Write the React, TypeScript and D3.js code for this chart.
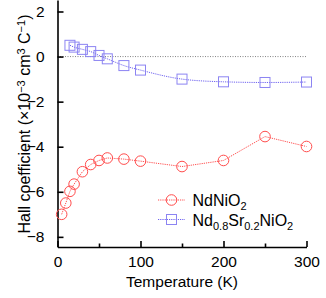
import { useEffect, useRef } from 'react';
import * as d3 from 'd3';

const ndTemps = [5, 10, 15, 20, 30, 40, 50, 60, 80, 100, 150, 200, 250, 300];
const ndHall = [-7.0, -6.5, -5.98, -5.66, -5.11, -4.79, -4.61, -4.5, -4.55, -4.64, -4.88, -4.61, -3.55, -3.99];

const srTemps = [15, 20, 30, 40, 50, 60, 80, 100, 150, 200, 250, 300];
const srHall = [0.5, 0.42, 0.32, 0.22, 0.05, -0.1, -0.4, -0.6, -1.0, -1.12, -1.15, -1.13];

const xTicks = [0, 100, 200, 300];
const xMinorTicks = [50, 150, 250];
const yTicks = [-8, -6, -4, -2, 0, 2];

const FONT = '"Liberation Sans", Arial, Helvetica, sans-serif';
const RED = '#ff4d4d';
const BLUE = '#6f63f0';
const BLUE_MARK = '#8c84f2';

export default function App() {
  const svgRef = useRef<SVGSVGElement>(null);

  useEffect(() => {
    if (!svgRef.current) return;
    const svg = d3.select(svgRef.current);
    svg.selectAll('*').remove();

    const width = 326;
    const height = 298;
    const margin = { top: 0, right: 19.5, bottom: 51, left: 57.5 };

    const x = d3.scaleLinear().domain([0, 300]).range([margin.left, width - margin.right]);
    const y = d3.scaleLinear().domain([-8.45, 2.51]).range([height - margin.bottom, margin.top]);

    // zero reference line
    svg.append('line')
      .attr('x1', x(0)).attr('x2', x(300))
      .attr('y1', y(0)).attr('y2', y(0))
      .attr('stroke', '#666')
      .attr('stroke-width', 0.8)
      .attr('stroke-dasharray', '1,1.5');

    // axes, ticks pointing inwards
    const xAxis = svg.append('g')
      .attr('transform', `translate(0,${y.range()[0]})`)
      .call(d3.axisBottom(x).tickValues(xTicks).tickSizeInner(-6).tickSizeOuter(0).tickPadding(9));
    xAxis.selectAll('.tick text').attr('dy', '0.71em');

    svg.append('g')
      .attr('transform', `translate(0,${y.range()[0]})`)
      .call(d3.axisBottom(x).tickValues(xMinorTicks).tickSizeInner(-3.5).tickSizeOuter(0).tickFormat(() => ''))
      .select('.domain').remove();

    const yAxis = svg.append('g')
      .attr('transform', `translate(${x.range()[0]},0)`)
      .call(d3.axisLeft(y).tickValues(yTicks).tickSizeInner(-6).tickSizeOuter(0).tickPadding(13)
        .tickFormat(d => (d as number) < 0 ? `\u2212${Math.abs(d as number)}` : `${d}`));

    [xAxis, yAxis].forEach(a => {
      a.selectAll('.tick text')
        .style('font-family', FONT)
        .style('font-size', '15.5px')
        .attr('fill', '#000');
      a.selectAll('.domain').attr('stroke', '#000').attr('stroke-width', 1.6);
    });
    svg.selectAll('.tick line').attr('stroke', '#000').attr('stroke-width', 1.6);

    const ndData = ndTemps.map((t, i) => [t, ndHall[i]] as [number, number]);
    const srData = srTemps.map((t, i) => [t, srHall[i]] as [number, number]);

    svg.append('path')
      .datum(ndData)
      .attr('d', d3.line<[number, number]>().x(d => x(d[0])).y(d => y(d[1])))
      .attr('fill', 'none')
      .attr('stroke', RED)
      .attr('stroke-width', 1)
      .attr('stroke-dasharray', '1.2,1');

    svg.append('path')
      .datum(srData)
      .attr('d', d3.line<[number, number]>().curve(d3.curveMonotoneX).x(d => x(d[0])).y(d => y(d[1])))
      .attr('fill', 'none')
      .attr('stroke', BLUE)
      .attr('stroke-width', 1)
      .attr('stroke-dasharray', '1.2,1');

    svg.append('g').selectAll('circle')
      .data(ndData)
      .enter()
      .append('circle')
      .attr('cx', d => x(d[0]))
      .attr('cy', d => y(d[1]))
      .attr('r', 5.3)
      .attr('fill', 'none')
      .attr('stroke', RED)
      .attr('stroke-width', 1);

    svg.append('g').selectAll('rect')
      .data(srData)
      .enter()
      .append('rect')
      .attr('x', d => x(d[0]) - 5)
      .attr('y', d => y(d[1]) - 5)
      .attr('width', 10)
      .attr('height', 10)
      .attr('fill', 'none')
      .attr('stroke', BLUE_MARK)
      .attr('stroke-width', 1);

    // legend
    const legend = svg.append('g').attr('transform', 'translate(158,200)');
    legend.append('line').attr('x1', 0).attr('x2', 27).attr('y1', 0).attr('y2', 0)
      .attr('stroke', RED).attr('stroke-dasharray', '1.2,1');
    legend.append('circle').attr('cx', 13.5).attr('cy', 0).attr('r', 5.3)
      .attr('fill', 'none').attr('stroke', RED);
    legend.append('line').attr('x1', 0).attr('x2', 27).attr('y1', 19.5).attr('y2', 19.5)
      .attr('stroke', BLUE).attr('stroke-dasharray', '1.2,1');
    legend.append('rect').attr('x', 8.5).attr('y', 14.5).attr('width', 10).attr('height', 10)
      .attr('fill', 'none').attr('stroke', BLUE_MARK);

    const t1 = legend.append('text').attr('x', 34.5).attr('y', 6)
      .style('font-family', FONT).style('font-size', '16px');
    t1.append('tspan').text('NdNiO');
    t1.append('tspan').text('2').attr('dy', 4).style('font-size', '11px');

    const t2 = legend.append('text').attr('x', 34.5).attr('y', 25.5)
      .style('font-family', FONT).style('font-size', '16px');
    t2.append('tspan').text('Nd');
    t2.append('tspan').text('0.8').attr('dy', 4).style('font-size', '11px');
    t2.append('tspan').text('Sr').attr('dy', -4);
    t2.append('tspan').text('0.2').attr('dy', 4).style('font-size', '11px');
    t2.append('tspan').text('NiO').attr('dy', -4);
    t2.append('tspan').text('2').attr('dy', 4).style('font-size', '11px');

    // axis titles
    svg.append('text')
      .attr('x', (x.range()[0] + x.range()[1]) / 2)
      .attr('y', 287)
      .attr('text-anchor', 'middle')
      .style('font-family', FONT)
      .style('font-size', '15.5px')
      .text('Temperature (K)');

    const yt = svg.append('text')
      .attr('transform', 'translate(29.5,124) rotate(-90)')
      .attr('text-anchor', 'middle')
      .style('font-family', FONT)
      .style('font-size', '16px');
    yt.append('tspan').text('Hall coefficient (\u00d710');
    yt.append('tspan').text('\u22123').attr('dy', -5).style('font-size', '11px');
    yt.append('tspan').text(' cm').attr('dy', 5);
    yt.append('tspan').text('3').attr('dy', -5).style('font-size', '11px');
    yt.append('tspan').text(' C').attr('dy', 5);
    yt.append('tspan').text('\u22121').attr('dy', -5).style('font-size', '11px');
    yt.append('tspan').text(')').attr('dy', 5);
  }, []);

  return (
    <svg
      ref={svgRef}
      width={326}
      height={298}
      style={{ position: 'absolute', left: 0, top: 0, background: '#fff' }}
    />
  );
}
